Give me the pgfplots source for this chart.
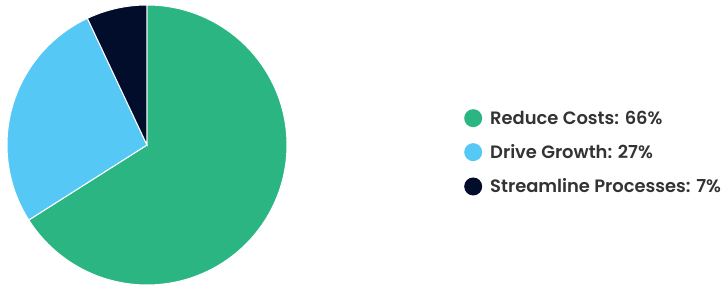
\documentclass[border=0pt]{standalone}
\usepackage{pgfplots}
\pgfplotsset{compat=1.18}
\usepackage{fontspec}
\setmainfont{Poppins}[BoldFont={Poppins SemiBold}]
\definecolor{cGreen}{HTML}{2BB583}
\definecolor{cBlue}{HTML}{56C8F5}
\definecolor{cDark}{HTML}{020D2B}
\definecolor{cText}{HTML}{333333}
\begin{document}
\begin{tikzpicture}
% shares in percent
\def\vA{66}\def\vB{27}\def\vC{7}
\pgfmathsetmacro{\aA}{90}
\pgfmathsetmacro{\aB}{\aA-\vA*3.6}
\pgfmathsetmacro{\aC}{\aB-\vB*3.6}
\pgfmathsetmacro{\aD}{\aC-\vC*3.6}
\begin{axis}[
  scale only axis, width=723pt, height=286pt,
  xmin=0, xmax=723, ymin=0, ymax=286,
  hide axis, clip=false,
  legend image code/.code={\fill[#1,draw=none] (9pt,0pt) circle (9pt);},
  legend cell align=left,
  legend style={draw=none, fill=none, at={(axis cs:464,133.5)}, anchor=west,
    font=\fontsize{17.9}{20}\selectfont\bfseries, text=cText,
    row sep=14.8pt, inner sep=0pt, nodes={inner sep=2pt},
    /tikz/every odd column/.append style={column sep=6pt}},
]
\path (axis cs:0,0) rectangle (axis cs:723,286);
\addplot[fill=cGreen, draw=white, line width=1pt, domain=\aB:\aA, samples=150, variable=\t]
  ({147+140*cos(\t)},{141+140*sin(\t)}) -- (axis cs:147,141) -- cycle;
\addlegendentry{Reduce Costs: 66\%}
\addplot[fill=cBlue, draw=white, line width=1pt, domain=\aC:\aB, samples=80, variable=\t]
  ({147+140*cos(\t)},{141+140*sin(\t)}) -- (axis cs:147,141) -- cycle;
\addlegendentry{Drive Growth: 27\%}
\addplot[fill=cDark, draw=white, line width=1pt, domain=\aD:\aC, samples=30, variable=\t]
  ({147+140*cos(\t)},{141+140*sin(\t)}) -- (axis cs:147,141) -- cycle;
\addlegendentry{Streamline Processes: 7\%}
\end{axis}
\end{tikzpicture}
\end{document}
